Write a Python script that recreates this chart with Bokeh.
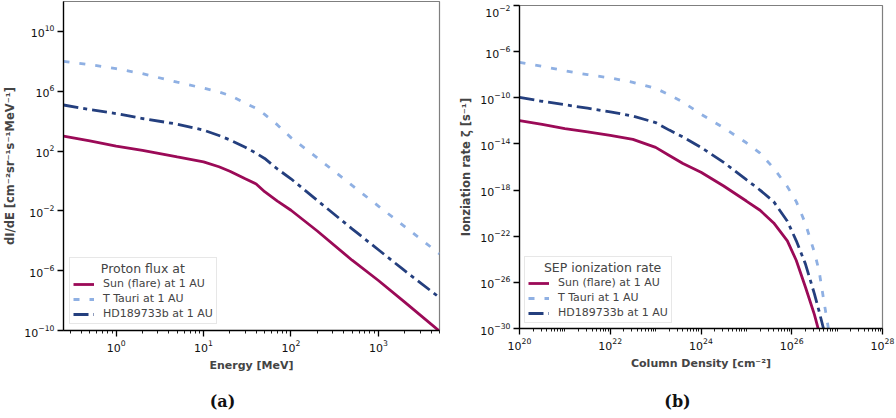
from bokeh.plotting import figure
from bokeh.layouts import row, column
from bokeh.models import FixedTicker, LogTickFormatter, Legend, LegendItem, Range1d, Spacer
from bokeh.core.properties import value
from bokeh.embed import file_html
from bokeh.resources import INLINE

# ---------------- data: (a) proton flux spectra ----------------
energy_mev = [0.25, 0.5, 1, 2, 5, 10, 15, 20, 30, 40, 50, 70, 100, 200, 500, 1000, 2000, 5000]
sun_flux = [1.0e3, 4.8e2, 2.1e2, 1.1e2, 4.0e1, 1.9e1, 8.9, 4.5, 1.4, 6.3e-1, 1.9e-1, 4.5e-2,
            1.1e-2, 4.5e-4, 5.0e-6, 2.2e-7, 7.9e-9, 9.0e-11]
ttauri_flux = [1.0e8, 6.0e7, 3.2e7, 1.5e7, 4.0e6, 1.6e6, 8.9e5, 5.2e5, 1.6e5, 7.1e4, 2.8e4, 5.6e3,
               7.9e2, 3.5e1, 5.0e-1, 2.1e-2, 8.9e-4, 1.35e-5]
hd_flux = [1.2e5, 6.0e4, 3.2e4, 1.5e4, 6.3e3, 2.5e3, 1.1e3, 5.6e2, 1.8e2, 7.1e1, 3.2e1, 6.3,
           1.4, 5.0e-2, 6.3e-4, 2.5e-5, 1.0e-6, 1.6e-8]

# ---------------- data: (b) SEP ionization rate ----------------
column_density = [1e20, 3.16e20, 1e21, 3.16e21, 1e22, 3.16e22, 1e23, 2e23, 4e23, 1e24, 3.16e24,
                  1e25, 2e25, 4e25, 8e25, 1.26e26, 2e26, 3.16e26, 4e26, 5e26, 6.3e26, 7.9e26]
sun_rate = [1.07e-12, 5.0e-13, 2.14e-13, 1.1e-13, 5.5e-14, 2.5e-14, 5.0e-15, 1.0e-15, 2.0e-16,
            3.55e-17, 2.24e-18, 1.12e-19, 1.78e-20, 1.41e-21, 4.0e-23, 7.9e-25, 4.0e-27,
            1.58e-29, 5.0e-31, 1.0e-32, 1.0e-34, 1.0e-36]
ttauri_rate = [1.17e-7, 5.25e-8, 2.19e-8, 1.02e-8, 5.25e-9, 2.19e-9, 6.6e-10, 1.82e-10, 4.17e-11,
               3.8e-12, 2.5e-13, 1.26e-14, 1.58e-15, 7.9e-17, 2.0e-18, 1.0e-19, 1.26e-21,
               4.0e-24, 1.0e-25, 4.0e-28, 1.6e-30, 3.2e-33]
hd_rate = [1.07e-10, 5.0e-11, 2.5e-11, 1.26e-11, 6.0e-12, 2.6e-12, 7.1e-13, 1.58e-13, 4.0e-14,
           5.0e-15, 2.5e-16, 7.9e-18, 1.0e-18, 1.0e-19, 2.0e-21, 4.0e-23, 4.0e-25, 1.0e-27,
           3.2e-29, 1.0e-30, 1.0e-32, 1.0e-34]

series_labels = ["Sun (flare) at 1 AU", "T Tauri at 1 AU", "HD189733b at 1 AU"]
panel_captions = ["(a)", "(b)"]

# tick positions
left_x_major = [1, 10, 100, 1000]
left_y_major = [1e-10, 1e-6, 1e-2, 1e2, 1e6, 1e10]
right_x_major = [1e20, 1e22, 1e24, 1e26, 1e28]
right_y_major = [1e-30, 1e-26, 1e-22, 1e-18, 1e-14, 1e-10, 1e-6, 1e-2]

SUN_C = "#9b0a57"
TT_C = "#8fb0e3"
HD_C = "#243f7e"
FONT = "DejaVu Sans"
NB = "\u00a0"


def minor_log(lo_exp, hi_exp, include_decades=False):
    out = []
    for e in range(lo_exp, hi_exp):
        base = 10.0 ** e
        if include_decades:
            out.append(base)
        for m in range(2, 10):
            out.append(m * base)
    return out


def style(p, xlabel, ylabel):
    p.xgrid.visible = False
    p.ygrid.visible = False
    p.outline_line_color = "#7f7f7f"
    p.outline_line_width = 1.2
    p.background_fill_color = "white"
    p.border_fill_color = "white"
    for ax in (p.xaxis[0], p.yaxis[0]):
        ax.axis_line_color = "black"
        ax.axis_line_width = 1.3
        ax.major_tick_line_color = "black"
        ax.major_tick_line_width = 1.3
        ax.major_tick_out = 6
        ax.major_tick_in = 0
        ax.minor_tick_line_color = "black"
        ax.minor_tick_line_width = 0.9
        ax.minor_tick_out = 3
        ax.minor_tick_in = 0
        ax.major_label_text_font = FONT
        ax.major_label_text_font_size = "11px"
        ax.major_label_text_color = "#111111"
        ax.major_label_standoff = 3
        ax.axis_label_text_font = FONT
        ax.axis_label_text_font_style = "bold"
        ax.axis_label_text_font_size = "11px"
        ax.axis_label_standoff = 4
        ax.formatter = LogTickFormatter()
    p.xaxis.axis_label = xlabel
    p.yaxis.axis_label = ylabel
    p.yaxis.axis_label_text_font_size = "11.5px"


def add_lines(p, x, ys, title, loc):
    r1 = p.line(x, ys[0], line_color=SUN_C, line_width=2.8)
    r2 = p.line(x, ys[1], line_color=TT_C, line_width=2.8, line_dash="6 10", line_cap="butt")
    r3 = p.line(x, ys[2], line_color=HD_C, line_width=2.8, line_dash="15 5 4 5", line_cap="butt")
    items = [LegendItem(label=series_labels[0], renderers=[r1]),
             LegendItem(label=series_labels[1], renderers=[r2]),
             LegendItem(label=series_labels[2], renderers=[r3])]
    leg = Legend(items=items, title=title, location=loc)
    leg.title_text_font = FONT
    leg.title_text_font_size = "12.5px"
    leg.title_text_font_style = "normal"
    leg.title_standoff = 1
    leg.label_text_font = FONT
    leg.label_text_font_size = "11px"
    leg.glyph_width = 21
    leg.glyph_height = 12
    leg.label_height = 12
    leg.label_standoff = 9
    leg.spacing = 2
    leg.padding = 3
    leg.margin = 0
    leg.border_line_color = "#d0d0d0"
    leg.border_line_width = 1
    leg.background_fill_alpha = 0.85
    p.add_layout(leg)


def caption_fig(text, cx):
    c = figure(width=448, height=28, x_range=Range1d(0, 448), y_range=Range1d(0, 28),
               output_backend="svg", toolbar_location=None, min_border=0,
               outline_line_color=None)
    c.axis.visible = False
    c.grid.visible = False
    c.background_fill_color = "white"
    c.border_fill_color = "white"
    c.text(x=[cx], y=[17], text=[text], text_font=value("DejaVu Serif"), text_font_style="bold",
           text_font_size="16px", text_align="center", text_baseline="middle", text_color="#111111")
    return c


# ---------------- figure (a) ----------------
p1 = figure(width=448, height=390, x_axis_type="log", y_axis_type="log",
            x_range=Range1d(0.25, 5000), y_range=Range1d(1e-10, 1e12),
            output_backend="svg", toolbar_location=None,
            min_border_left=63, min_border_right=9, min_border_top=1, min_border_bottom=60)
style(p1, "Energy [MeV]", "dI/dE [cm⁻²sr⁻¹s⁻¹MeV⁻¹]")
p1.xaxis.ticker = FixedTicker(ticks=left_x_major, minor_ticks=minor_log(-1, 4))
p1.yaxis.ticker = FixedTicker(ticks=left_y_major, minor_ticks=[])
add_lines(p1, energy_mev, [sun_flux, ttauri_flux, hd_flux], NB * 7 + "Proton flux at", (6, 6))

# ---------------- figure (b) ----------------
p2 = figure(width=448, height=386, x_axis_type="log", y_axis_type="log",
            x_range=Range1d(1e20, 1e28), y_range=Range1d(1e-30, 1e-2),
            output_backend="svg", toolbar_location=None,
            min_border_left=71, min_border_right=14, min_border_top=1, min_border_bottom=62)
style(p2, "Column Density [cm⁻²]", "Ionziation rate ζ [s⁻¹]")
p2.xaxis.ticker = FixedTicker(ticks=right_x_major,
                              minor_ticks=[t for t in minor_log(20, 28, True) if t not in right_x_major])
p2.yaxis.ticker = FixedTicker(ticks=right_y_major, minor_ticks=[])
add_lines(p2, column_density, [sun_rate, ttauri_rate, hd_rate], NB * 4 + "SEP ionization rate", (5, 5))

cap1 = caption_fig(panel_captions[0], 222)
cap2 = caption_fig(panel_captions[1], 229)

layout = column(row(p1, column(Spacer(width=448, height=4), p2)), row(cap1, cap2))
open("out.html", "w").write(file_html(layout, INLINE))
